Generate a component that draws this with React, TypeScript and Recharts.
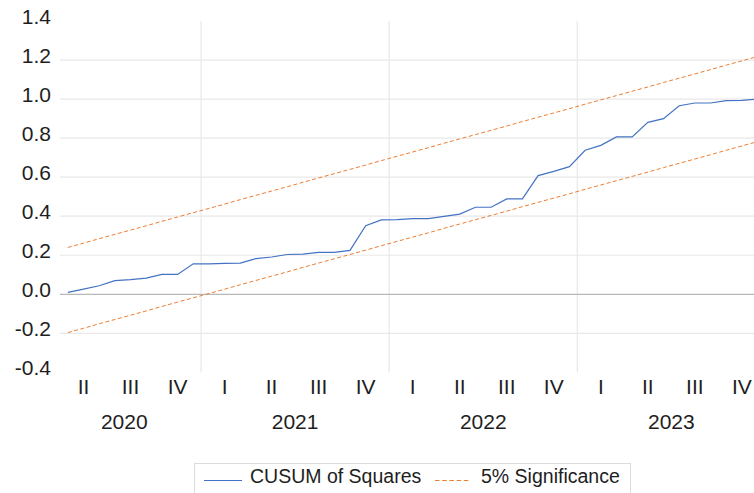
import React from 'react';
import { LineChart, Line, XAxis, YAxis, ReferenceLine, Legend } from 'recharts';

// Monthly observations 2020M04 .. 2023M12 (index 0..44)
const periods: string[] = [
  '2020M04','2020M05','2020M06','2020M07','2020M08','2020M09','2020M10','2020M11','2020M12',
  '2021M01','2021M02','2021M03','2021M04','2021M05','2021M06','2021M07','2021M08','2021M09','2021M10','2021M11','2021M12',
  '2022M01','2022M02','2022M03','2022M04','2022M05','2022M06','2022M07','2022M08','2022M09','2022M10','2022M11','2022M12',
  '2023M01','2023M02','2023M03','2023M04','2023M05','2023M06','2023M07','2023M08','2023M09','2023M10','2023M11','2023M12',
];

const cusumSquares: number[] = [
  0.010, 0.027, 0.044, 0.070, 0.075, 0.083, 0.102, 0.102, 0.156,
  0.156, 0.158, 0.160, 0.183, 0.191, 0.204, 0.206, 0.215, 0.215, 0.225, 0.351, 0.381,
  0.383, 0.388, 0.388, 0.399, 0.411, 0.446, 0.446, 0.489, 0.489, 0.608, 0.630, 0.654,
  0.738, 0.763, 0.806, 0.806, 0.881, 0.900, 0.966, 0.980, 0.980, 0.992, 0.993, 1.000,
];

const upperBound: number[] = [
  0.240, 0.262, 0.285, 0.307, 0.329, 0.351, 0.374, 0.396, 0.418,
  0.440, 0.462, 0.485, 0.507, 0.529, 0.551, 0.574, 0.596, 0.618, 0.640, 0.662, 0.685,
  0.707, 0.729, 0.751, 0.774, 0.796, 0.818, 0.840, 0.862, 0.885, 0.907, 0.929, 0.951,
  0.974, 0.996, 1.018, 1.040, 1.062, 1.085, 1.107, 1.129, 1.151, 1.174, 1.196, 1.218,
];

const lowerBound: number[] = [
  -0.196, -0.174, -0.151, -0.129, -0.107, -0.085, -0.062, -0.040, -0.018,
  0.004, 0.026, 0.049, 0.071, 0.093, 0.115, 0.138, 0.160, 0.182, 0.204, 0.226, 0.249,
  0.271, 0.293, 0.315, 0.338, 0.360, 0.382, 0.404, 0.426, 0.449, 0.471, 0.493, 0.515,
  0.538, 0.560, 0.582, 0.604, 0.626, 0.649, 0.671, 0.693, 0.715, 0.738, 0.760, 0.782,
];

const quarterTicks: number[] = [1, 4, 7, 10, 13, 16, 19, 22, 25, 28, 31, 34, 37, 40, 43];
const quarterLabels: string[] = ['II', 'III', 'IV', 'I', 'II', 'III', 'IV', 'I', 'II', 'III', 'IV', 'I', 'II', 'III', 'IV'];
const yearTicks: number[] = [3.6, 14.5, 26.5, 38.5];
const yearLabels: string[] = ['2020', '2021', '2022', '2023'];
const yearBreaks: number[] = [8.5, 20.5, 32.5];
const yTicks: number[] = [-0.4, -0.2, 0.0, 0.2, 0.4, 0.6, 0.8, 1.0, 1.2, 1.4];
const gridValues: number[] = [-0.2, 0.2, 0.4, 0.6, 0.8, 1.0, 1.2];

const data = periods.map((p, i) => ({
  t: i,
  period: p,
  cusum: cusumSquares[i],
  upper: upperBound[i],
  lower: lowerBound[i],
}));

const FONT = '"Liberation Sans", Arial, sans-serif';
const TEXT = '#1e1e1e';
const BLUE = '#4472C4';
const ORANGE = '#ED7D31';

const YTick = (props: any) => {
  const { x, y, payload } = props;
  return (
    <text x={x} y={y + 3} textAnchor="end" fontSize={21} fontFamily={FONT} fill={TEXT}>
      {Number(payload.value).toFixed(1)}
    </text>
  );
};

const QTick = (props: any) => {
  const { x, y, payload } = props;
  const idx = quarterTicks.indexOf(payload.value);
  return (
    <text x={x} y={y + 21.3} textAnchor="middle" fontSize={21} fontFamily={FONT} fill={TEXT}>
      {quarterLabels[idx]}
    </text>
  );
};

const YearTick = (props: any) => {
  const { x, y, payload } = props;
  const idx = yearTicks.indexOf(payload.value);
  return (
    <text x={x} y={y + 22.6} textAnchor="middle" fontSize={21} fontFamily={FONT} fill={TEXT}>
      {yearLabels[idx]}
    </text>
  );
};

const LegendContent = () => (
  <svg width={435} height={36} style={{ display: 'block' }}>
    <line x1={9} x2={47} y1={16.5} y2={16.5} stroke={BLUE} strokeWidth={1.2} />
    <text x={55} y={19} fontSize={19.5} fontFamily={FONT} fill={TEXT}>CUSUM of Squares</text>
    <line x1={240} x2={276} y1={16.5} y2={16.5} stroke={ORANGE} strokeWidth={1} strokeDasharray="4.5 2.7" />
    <text x={286} y={19} fontSize={19.5} fontFamily={FONT} fill={TEXT}>5% Significance</text>
  </svg>
);

export default function App() {
  return (
    <div style={{ position: 'absolute', left: 0, top: 0, width: 754, height: 493, overflow: 'hidden', background: '#fff' }}>
      <LineChart
        width={770}
        height={493}
        data={data}
        margin={{ top: 21, right: 4.6, left: 0, bottom: 46.6 }}
      >
        <XAxis
          xAxisId="q"
          dataKey="t"
          type="number"
          domain={[-0.5, 44.5]}
          ticks={quarterTicks}
          interval={0}
          tick={<QTick />}
          axisLine={false}
          tickLine={false}
          tickSize={0}
          tickMargin={0}
          height={34}
        />
        <XAxis
          xAxisId="y"
          dataKey="t"
          type="number"
          domain={[-0.5, 44.5]}
          ticks={yearTicks}
          interval={0}
          tick={<YearTick />}
          axisLine={false}
          tickLine={false}
          tickSize={0}
          tickMargin={0}
          height={40}
        />
        <YAxis
          type="number"
          domain={[-0.4, 1.4]}
          ticks={yTicks}
          interval={0}
          tick={<YTick />}
          axisLine={false}
          tickLine={false}
          tickSize={0}
          tickMargin={9}
          width={60}
        />
        {gridValues.map((v) => (
          <ReferenceLine key={'g' + v} xAxisId="q" y={v} stroke="#e8e8e8" strokeWidth={1.2} />
        ))}
        {yearBreaks.map((v) => (
          <ReferenceLine key={'b' + v} xAxisId="q" x={v} stroke="#e8e8e8" strokeWidth={1.2} />
        ))}
        <ReferenceLine xAxisId="q" y={0} stroke="#b8b8b8" strokeWidth={1.2} />
        <Line
          xAxisId="q"
          type="linear"
          dataKey="upper"
          name="5% Significance"
          stroke={ORANGE}
          strokeWidth={1}
          strokeDasharray="4 2.5"
          dot={false}
          activeDot={false}
          isAnimationActive={false}
          legendType="none"
        />
        <Line
          xAxisId="q"
          type="linear"
          dataKey="lower"
          name="5% Significance"
          stroke={ORANGE}
          strokeWidth={1}
          strokeDasharray="4 2.5"
          dot={false}
          activeDot={false}
          isAnimationActive={false}
        />
        <Line
          xAxisId="q"
          type="linear"
          dataKey="cusum"
          name="CUSUM of Squares"
          stroke={BLUE}
          strokeWidth={1.2}
          dot={false}
          activeDot={false}
          isAnimationActive={false}
        />
        <Legend
          layout="horizontal"
          verticalAlign="middle"
          align="center"
          content={<LegendContent />}
          wrapperStyle={{
            left: 194,
            top: 462.7,
            width: 437,
            height: 40,
            border: '1px solid #dcdcdc',
            boxSizing: 'border-box',
            background: '#fff',
          }}
        />
      </LineChart>
    </div>
  );
}
